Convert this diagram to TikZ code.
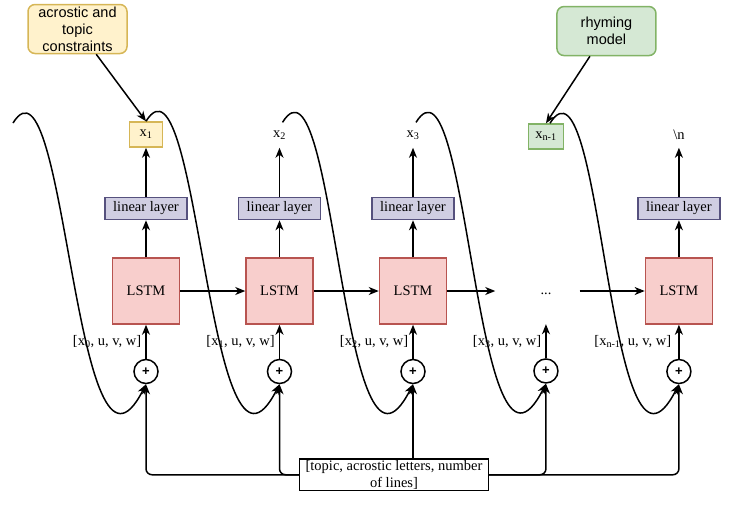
\documentclass[tikz,border=0pt]{standalone}
\usepackage{fontspec}
\setmainfont{Liberation Serif}
\setsansfont{Liberation Sans}
\usepackage{xcolor}
\usetikzlibrary{positioning, arrows.meta}

\definecolor{ylwfill}{HTML}{FFF2CC}
\definecolor{ylwline}{HTML}{D6B656}
\definecolor{grnfill}{HTML}{D5E8D4}
\definecolor{grnline}{HTML}{82B366}
\definecolor{purfill}{HTML}{D0CEE2}
\definecolor{purline}{HTML}{56517E}
\definecolor{redfill}{HTML}{F8CECC}
\definecolor{redline}{HTML}{B85450}

\begin{document}
\begin{tikzpicture}[
    x=1pt, y=-1pt,
    every node/.style={font=\fontsize{14.5}{17}\selectfont},
    cell/.style={rectangle, draw=redline, fill=redfill, line width=1.5pt, minimum width=67pt, minimum height=66pt},
    lin/.style={rectangle, draw=purline, fill=purfill, line width=1.5pt, minimum width=82pt, minimum height=22pt, inner sep=1pt},
    outb/.style={rectangle, draw=#1line, fill=#1fill, line width=1.5pt, minimum width=33pt, minimum height=25pt, inner sep=1pt},
    outlbl/.style={minimum height=25pt, inner sep=0pt},
    note/.style={rectangle, draw=#1line, fill=#1fill, line width=1.5pt, rounded corners=7pt, minimum width=99pt, minimum height=49pt, align=center, inner sep=1pt, font=\sffamily\fontsize{14.5}{17}\selectfont},
    addop/.style={circle, draw, fill=white, line width=1.5pt, minimum size=24pt, inner sep=0pt, font=\sffamily\bfseries\fontsize{13}{13}\selectfont},
    inlbl/.style={left=3pt, inner sep=1pt},
    arr/.style={-{Stealth[length=10pt, width=8pt, inset=3pt]}, line width=1.5pt},
]
    \useasboundingbox (0,0) rectangle (741,509);

    % lstm chain
    \node[cell] (l1) at (146,291) {LSTM};
    \node[cell, right=65pt of l1] (l2) {LSTM};
    \node[cell, right=65pt of l2] (l3) {LSTM};
    \node[minimum width=67pt, minimum height=66pt, text height=10pt, text depth=4pt, right=65pt of l3] (dots) {...};
    \node[cell, right=65pt of dots] (l5) {LSTM};

    \node[lin, above=37pt of l1] (lin1) {linear layer};
    \node[lin, above=37pt of l2] (lin2) {linear layer};
    \node[lin, above=37pt of l3] (lin3) {linear layer};
    \node[lin, above=37pt of l5] (lin5) {linear layer};

    \node[outb=ylw, above=49pt of lin1] (x1) {x\textsubscript{1}};
    \node[outlbl, above=49pt of lin2] (x2) {x\textsubscript{2}};
    \node[outlbl, above=49pt of lin3] (x3) {x\textsubscript{3}};
    \node[outb=grn, minimum width=35pt, above=108pt of dots.north] (xn1) {x\textsubscript{n-1}};
    \node[outlbl, above=49pt of lin5] (xend) {\textbackslash n};

    \node[note=ylw, above left=67pt and 1pt of x1] (cons) {acrostic and\\topic\\constraints};
    \node[note=grn, above right=67pt and -8pt of xn1] (rhym) {rhyming\\model};

    \node[addop, below=34pt of l1] (p1) {+};
    \node[addop, below=34pt of l2] (p2) {+};
    \node[addop, below=34pt of l3] (p3) {+};
    \node[addop, below=34pt of dots] (p4) {+};
    \node[addop, below=34pt of l5] (p5) {+};

    \node[rectangle, draw, line width=1.5pt, align=center, inner xsep=6pt, inner ysep=1.5pt,
          font=\fontsize{14.5}{16.5}\selectfont, below=74pt of p3, xshift=-19pt] (topic)
        {[topic, acrostic letters, number\\of lines]};

    \coordinate (c0) at (13,123);

    \draw[arr] (cons) -- (x1.north);
    \draw[arr] (rhym) -- (xn1.north);

    \draw[arr] (l1) -- (lin1);
    \draw[arr] (l2) -- (lin2);
    \draw[arr] (l3) -- (lin3);
    \draw[arr] (l5) -- (lin5);
    \draw[arr] (lin1) -- (x1);
    \draw[arr] (lin2) -- (x2);
    \draw[arr] (lin3) -- (x3);
    \draw[arr] (lin5) -- (xend);

    \draw[arr] (l1) -- (l2);
    \draw[arr] (l2) -- (l3);
    \draw[arr, shorten >=17pt] (l3) -- (dots);
    \draw[arr] (dots) -- (l5);

    \draw[arr] (p1) -- node[inlbl] {[x\textsubscript{0}, u, v, w]} (l1);
    \draw[arr] (p2) -- node[inlbl] {[x\textsubscript{1}, u, v, w]} (l2);
    \draw[arr] (p3) -- node[inlbl] {[x\textsubscript{2}, u, v, w]} (l3);
    \draw[arr] (p4) -- node[inlbl] {[x\textsubscript{3}, u, v, w]} (dots);
    \draw[arr] (p5) -- node[inlbl, xshift=-3pt] {[x\textsubscript{n-1}, u, v, w]} (l5);

    % feedback of previous output
    \draw[arr] (c0) .. controls +(53,-85) and +(-71,140) .. (p1.south);
    \draw[arr] (x1.north) .. controls +(53,-85) and +(-71,140) .. (p2.south);
    \draw[arr] ([xshift=3pt]x2.north) .. controls +(53,-85) and +(-71,140) .. (p3.south);
    \draw[arr] ([xshift=3pt]x3.north) .. controls +(53,-85) and +(-71,140) .. (p4.south);
    \draw[arr] ([xshift=4pt]xn1.north) .. controls +(53,-85) and +(-71,140) .. (p5.south);

    % shared conditioning
    \draw[arr, rounded corners=6pt] (topic.west) -| (p1);
    \draw[arr, rounded corners=6pt] (topic.west) -| (p2);
    \draw[arr] (topic.north -| p3) -- (p3);
    \draw[arr, rounded corners=6pt] (topic.east) -| (p4);
    \draw[arr, rounded corners=6pt] (topic.east) -| (p5);
\end{tikzpicture}
\end{document}
